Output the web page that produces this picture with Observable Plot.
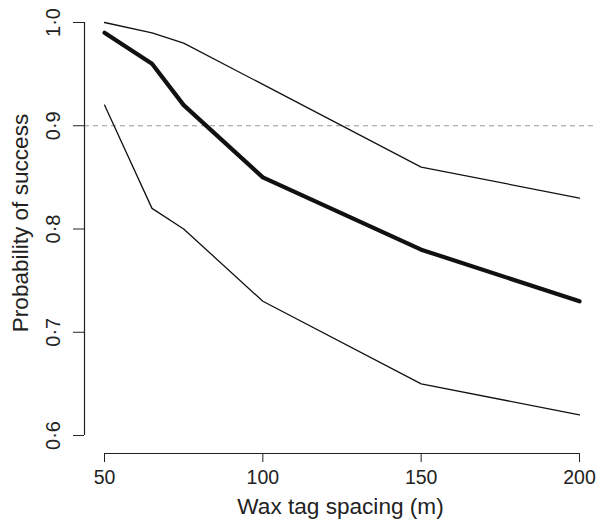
<!DOCTYPE html>
<html>
<head>
<meta charset="utf-8">
<script src="https://cdn.jsdelivr.net/npm/d3@7"></script>
<script src="https://cdn.jsdelivr.net/npm/@observablehq/plot@0.6"></script>
<style>
  html, body { margin: 0; padding: 0; background: #fff; }
  svg { display: block; }
</style>
</head>
<body>
<div id="chart"></div>
<script>
const spacing = [50, 65, 75, 100, 150, 200];
const meanP  = [0.99, 0.96, 0.92, 0.85, 0.78, 0.73];
const upperP = [1.00, 0.99, 0.98, 0.94, 0.86, 0.83];
const lowerP = [0.92, 0.82, 0.80, 0.73, 0.65, 0.62];
const xTicks = [50, 100, 150, 200];
const yTicks = [0.6, 0.7, 0.8, 0.9, 1.0];
const threshold = 0.9;
const xLabel = "Wax tag spacing (m)";
const yLabel = "Probability of success";

const rows = spacing.map((s, i) => ({s, mean: meanP[i], upper: upperP[i], lower: lowerP[i]}));
const fmt = d => d.toFixed(1).replace(".", "\u00b7");

const xDom = [43.68, 205.37];
const yDom = [0.5826, 1.0213];
const font = "'Liberation Sans', Arial, Helvetica, sans-serif";

const chart = Plot.plot({
  width: 596,
  height: 521,
  marginLeft: 84,
  marginRight: 0,
  marginTop: 0,
  marginBottom: 68,
  style: {fontFamily: font, background: "#fff", color: "#222"},
  x: {domain: xDom},
  y: {domain: yDom},
  marks: [
    Plot.ruleY([threshold], {stroke: "#999", strokeWidth: 1, strokeDasharray: "5,4"}),
    Plot.line(rows, {x: "s", y: "upper", stroke: "#111", strokeWidth: 1.3}),
    Plot.line(rows, {x: "s", y: "lower", stroke: "#111", strokeWidth: 1.3}),
    Plot.line(rows, {x: "s", y: "mean", stroke: "#111", strokeWidth: 4.2, strokeLinejoin: "round"}),
    Plot.ruleY([yDom[0]], {x1: d3.min(xTicks), x2: d3.max(xTicks), stroke: "#222", strokeWidth: 1.2}),
    Plot.ruleX([xDom[0]], {y1: d3.min(yTicks), y2: d3.max(yTicks), stroke: "#222", strokeWidth: 1.2}),
    Plot.axisX({ticks: xTicks, tickSize: 9, tickPadding: 8, fontSize: 19.5, label: null, tickFormat: d => String(d), stroke: "#222"}),
    Plot.axisY({ticks: yTicks, tickSize: 11, tickFormat: () => "", label: null, stroke: "#222"}),
    Plot.text(yTicks, {x: xDom[0], y: d => d, text: fmt, rotate: -90, textAnchor: "middle", lineAnchor: "bottom", dx: -25, fontSize: 20, fill: "#222"}),
    Plot.text([yLabel], {frameAnchor: "left", text: d => d, rotate: -90, textAnchor: "middle", lineAnchor: "bottom", dx: -57, dy: -4, fontSize: 22.6, fill: "#222"}),
    Plot.text([xLabel], {frameAnchor: "bottom", text: d => d, textAnchor: "middle", lineAnchor: "bottom", dy: 60, dx: 0, fontSize: 22.6, fill: "#222"})
  ]
});
document.getElementById("chart").appendChild(chart);
</script>
</body>
</html>
